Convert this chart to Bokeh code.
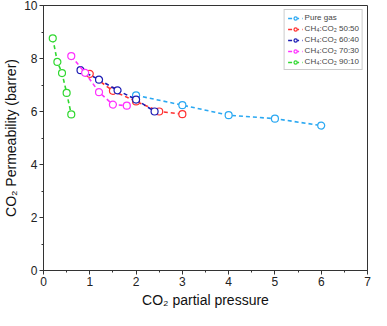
from bokeh.plotting import figure
from bokeh.models import Range1d, SingleIntervalTicker, Legend, LegendItem
from bokeh.embed import file_html
from bokeh.resources import INLINE

# Data
pure_x = [2, 3, 4, 5, 6]
pure_y = [6.61, 6.24, 5.86, 5.73, 5.47]
m5050_x = [1.0, 1.5, 2.0, 2.5, 3.0]
m5050_y = [7.42, 6.78, 6.38, 6.0, 5.9]
m6040_x = [0.8, 1.2, 1.6, 2.0, 2.4]
m6040_y = [7.56, 7.2, 6.8, 6.45, 6.0]
m7030_x = [0.6, 0.9, 1.2, 1.5, 1.8]
m7030_y = [8.09, 7.46, 6.73, 6.26, 6.22]
m9010_x = [0.2, 0.3, 0.4, 0.5, 0.6]
m9010_y = [8.76, 7.87, 7.45, 6.70, 5.89]

series = [
    ("Pure gas", pure_x, pure_y, "#2aa8f2"),
    ("CH\u2084:CO\u2082 50:50", m5050_x, m5050_y, "#ff3030"),
    ("CH\u2084:CO\u2082 60:40", m6040_x, m6040_y, "#1c1cb4"),
    ("CH\u2084:CO\u2082 70:30", m7030_x, m7030_y, "#ff30ff"),
    ("CH\u2084:CO\u2082 90:10", m9010_x, m9010_y, "#30d830"),
]

p = figure(width=371, height=310, output_backend="svg", toolbar_location=None,
           x_range=Range1d(0, 7), y_range=Range1d(0, 10),
           min_border_left=20, min_border_right=4, min_border_top=5, min_border_bottom=20)
p.background_fill_color = "white"
p.border_fill_color = "white"
p.outline_line_color = "#333333"
p.outline_line_width = 1
p.grid.visible = False

p.xaxis.ticker = SingleIntervalTicker(interval=1, num_minor_ticks=2)
p.yaxis.ticker = SingleIntervalTicker(interval=2, num_minor_ticks=2)
for ax in (p.xaxis, p.yaxis):
    ax.axis_line_color = "#333333"
    ax.major_tick_line_color = "#333333"
    ax.minor_tick_line_color = "#333333"
    ax.major_tick_in = 0
    ax.major_tick_out = 4
    ax.minor_tick_in = 0
    ax.minor_tick_out = 2
    ax.major_label_text_font = "Liberation Sans"
    ax.major_label_text_font_size = "12px"
    ax.major_label_text_color = "#222222"
    ax.axis_label_text_font = "Liberation Sans"
    ax.axis_label_text_font_size = "14px"
    ax.axis_label_text_font_style = "normal"
    ax.axis_label_text_color = "#111111"
p.xaxis.axis_label = "CO\u2082 partial pressure"
p.yaxis.axis_label = "CO\u2082 Permeability (barrer)"
p.xaxis.major_label_standoff = 2
p.yaxis.major_label_standoff = 2
p.xaxis.axis_label_standoff = 3
p.yaxis.axis_label_standoff = 2

items = []
for name, xs, ys, col in series:
    l = p.line(xs, ys, line_color=col, line_width=1.6, line_dash="4 3")
    s = p.scatter(xs, ys, marker="circle", size=7, line_color=col, line_width=1.2,
                  fill_color="white")
    items.append(LegendItem(label=name, renderers=[l, s]))

legend = Legend(items=items, location="top_right")
legend.label_text_font = "Liberation Sans"
legend.label_text_font_size = "8px"
legend.label_height = 8
legend.glyph_height = 8
legend.glyph_width = 15
legend.spacing = 2
legend.padding = 3
legend.margin = 4
legend.label_standoff = 2
legend.border_line_color = "#999999"
legend.border_line_width = 1
legend.background_fill_alpha = 1
p.add_layout(legend)

open("out.html", "w").write(file_html(p, INLINE))
